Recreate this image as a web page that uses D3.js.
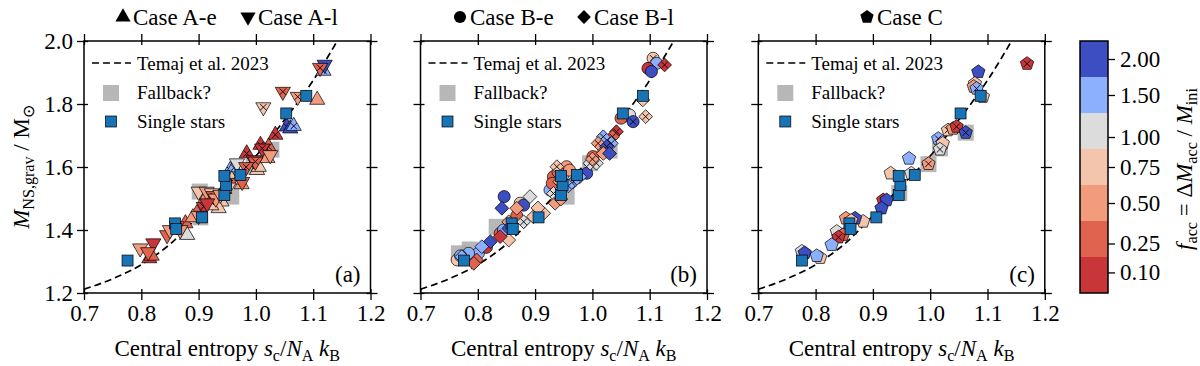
<!DOCTYPE html>
<html>
<head>
<meta charset="utf-8">
<script src="https://cdn.jsdelivr.net/npm/d3@7"></script>
<style>
	body { margin: 0; background: #fff; }
	svg text { font-family: "Liberation Serif", "Times New Roman", serif; fill: #000; }
	.axis path, .axis line { stroke: #000; stroke-width: 1.3; }
	.axis text { font-family: "Liberation Serif", serif; font-size: 23px; }
</style>
</head>
<body>
<svg id="chart" width="1200" height="366"></svg>
<script>
"use strict";

// Data

// Temaj et al. 2023 relation, sampled
var curveS = [0.70, 0.75, 0.80, 0.85, 0.90, 0.95, 1.00, 1.05, 1.10, 1.142];
var curveM = [1.212, 1.245, 1.29, 1.355, 1.445, 1.54, 1.635, 1.75, 1.875, 2.0];

// single stars: [s_c, M]
var singleStars = [
	[0.776, 1.303], [0.859, 1.421], [0.861, 1.403], [0.906, 1.440], [0.945, 1.511],
	[0.948, 1.543], [0.945, 1.572], [0.973, 1.575], [1.053, 1.770], [1.088, 1.826]
];

// binaries: [s_c, M, f_acc, crossed]
var caseAe = [
	[1.118, 1.905, 1.5, 1], [1.107, 1.813, 0.5, 0], [1.054, 1.728, 2.0, 1], [1.060, 1.722, 2.0, 0],
	[1.066, 1.730, 1.5, 1], [1.034, 1.702, 0.1, 1], [1.022, 1.664, 0.25, 1], [1.008, 1.670, 0.1, 1],
	[0.984, 1.643, 0.1, 1], [1.002, 1.590, 0.75, 0], [1.005, 1.600, 0.75, 0], [0.955, 1.590, 1.5, 1],
	[0.962, 1.598, 1.5, 1], [0.975, 1.545, 0.5, 0], [0.932, 1.495, 0.5, 0], [0.940, 1.490, 0.75, 0],
	[0.935, 1.469, 0.75, 0], [0.922, 1.478, 0.75, 0], [0.897, 1.453, 0.25, 0], [0.877, 1.421, 0.25, 0],
	[0.880, 1.384, 1.0, 0], [0.814, 1.310, 0.1, 0], [0.818, 1.318, 0.25, 0], [0.912, 1.500, 0.5, 0],
	[0.945, 1.530, 0.25, 1], [1.020, 1.628, 0.5, 0], [0.958, 1.560, 0.75, 0], [0.890, 1.440, 0.5, 0]
];
var caseAl = [
	[1.120, 1.925, 2.0, 0], [1.112, 1.915, 0.25, 1], [1.047, 1.839, 0.25, 1], [1.073, 1.823, 0.5, 1],
	[1.013, 1.790, 0.75, 1], [1.011, 1.659, 0.1, 1], [1.025, 1.638, 0.5, 0], [0.996, 1.622, 0.1, 0],
	[0.999, 1.617, 0.25, 1], [0.967, 1.612, 1.0, 0], [0.976, 1.553, 0.25, 0], [0.955, 1.550, 0.25, 1],
	[0.900, 1.522, 0.75, 0], [0.914, 1.522, 0.5, 0], [0.923, 1.517, 0.75, 0], [0.926, 1.508, 0.25, 1],
	[0.930, 1.500, 0.5, 0], [0.909, 1.474, 0.1, 1], [0.915, 1.485, 0.1, 0], [0.900, 1.445, 0.5, 0],
	[0.845, 1.384, 0.25, 0], [0.868, 1.400, 0.5, 0], [0.850, 1.400, 0.5, 0], [0.821, 1.358, 0.1, 0],
	[0.798, 1.342, 0.5, 0], [0.812, 1.330, 0.25, 0], [0.938, 1.512, 0.5, 0], [0.952, 1.535, 0.75, 1],
	[0.983, 1.600, 0.25, 1], [0.862, 1.412, 0.25, 0]
];
var caseBe = [
	[1.106, 1.945, 0.75, 1], [1.112, 1.929, 1.5, 0], [1.097, 1.913, 0.1, 0], [1.103, 1.903, 2.0, 0],
	[1.054, 1.760, 0.5, 0], [1.065, 1.765, 1.0, 0], [1.071, 1.744, 2.0, 1], [1.001, 1.633, 0.25, 0],
	[0.990, 1.580, 2.0, 0], [0.955, 1.601, 0.5, 0], [0.932, 1.569, 0.25, 0], [0.949, 1.575, 1.5, 0],
	[0.926, 1.527, 1.5, 0], [0.874, 1.485, 0.75, 0], [0.880, 1.479, 2.0, 0], [0.846, 1.506, 2.0, 0],
	[0.839, 1.389, 0.25, 0], [0.845, 1.400, 1.5, 0], [0.801, 1.326, 1.5, 0], [0.784, 1.326, 1.5, 0],
	[0.764, 1.305, 0.75, 0], [0.940, 1.585, 0.25, 0], [0.960, 1.590, 0.5, 0], [0.930, 1.548, 0.25, 0],
	[1.050, 1.755, 0.25, 0], [1.020, 1.650, 0.5, 0], [0.815, 1.345, 0.1, 0], [0.868, 1.445, 0.25, 0],
	[0.770, 1.318, 1.5, 0]
];
var caseBl = [
	[1.126, 1.924, 0.1, 1], [1.088, 1.813, 0.75, 0], [1.093, 1.760, 0.75, 1], [1.042, 1.712, 0.1, 1],
	[1.035, 1.696, 0.25, 1], [1.019, 1.696, 1.5, 1], [1.010, 1.675, 0.5, 1], [1.033, 1.675, 1.5, 1],
	[1.025, 1.665, 2.0, 1], [1.019, 1.643, 0.5, 0], [1.030, 1.643, 2.0, 0], [0.996, 1.612, 1.0, 1],
	[1.007, 1.612, 1.0, 1], [0.978, 1.569, 1.5, 1], [0.967, 1.553, 1.5, 1], [0.938, 1.601, 0.75, 1],
	[0.943, 1.553, 0.5, 1], [0.932, 1.516, 1.0, 1], [0.935, 1.485, 0.5, 0], [0.891, 1.506, 1.0, 0],
	[0.915, 1.453, 0.75, 0], [0.897, 1.442, 0.75, 0], [0.880, 1.426, 1.0, 1], [0.868, 1.469, 0.5, 0],
	[0.842, 1.469, 2.0, 0], [0.854, 1.426, 0.5, 0], [0.854, 1.405, 2.0, 0], [0.854, 1.368, 0.75, 0],
	[0.839, 1.379, 0.1, 0], [0.822, 1.363, 2.0, 0], [0.807, 1.347, 1.5, 0], [0.798, 1.305, 0.25, 0],
	[0.793, 1.294, 0.25, 0], [0.772, 1.315, 1.5, 0], [0.905, 1.470, 0.75, 0], [0.945, 1.498, 0.5, 0],
	[1.000, 1.625, 0.5, 1], [0.958, 1.540, 1.5, 1]
];
var caseC = [
	[1.169, 1.928, 0.1, 1], [1.084, 1.902, 2.0, 0], [1.078, 1.865, 0.75, 0], [1.076, 1.855, 0.5, 0],
	[1.081, 1.849, 1.5, 1], [1.092, 1.823, 0.75, 0], [1.031, 1.717, 0.75, 1], [1.040, 1.722, 0.5, 0],
	[1.046, 1.728, 0.1, 1], [1.062, 1.709, 2.0, 1], [1.014, 1.690, 1.5, 1], [1.022, 1.675, 0.75, 0],
	[1.017, 1.656, 1.0, 1], [0.997, 1.610, 0.5, 1], [0.963, 1.627, 1.5, 0], [0.967, 1.580, 1.0, 0],
	[0.931, 1.580, 0.75, 0], [0.918, 1.495, 0.1, 0], [0.924, 1.495, 2.0, 0], [0.915, 1.469, 2.0, 0],
	[0.883, 1.427, 0.75, 0], [0.853, 1.437, 0.5, 0], [0.869, 1.437, 2.0, 0], [0.862, 1.430, 0.75, 0],
	[0.837, 1.395, 1.0, 0], [0.848, 1.385, 0.25, 0], [0.840, 1.377, 0.1, 1], [0.828, 1.353, 1.5, 0],
	[0.808, 1.312, 0.75, 0], [0.802, 1.318, 1.5, 0], [0.776, 1.332, 1.0, 0], [0.781, 1.327, 2.0, 0]
];

// "Fallback?" highlights per panel: [s_c, M]
var fallbackA = [[0.903, 1.440], [0.902, 1.522], [0.957, 1.506], [0.996, 1.601], [1.027, 1.655]];
var fallbackB = [[0.767, 1.326], [0.786, 1.338], [0.833, 1.410], [0.955, 1.506], [0.996, 1.612], [1.030, 1.652]];
var fallbackC = [[0.946, 1.517], [0.997, 1.609], [1.017, 1.659], [1.062, 1.709]];

// colour bar
var accTicks = [0.10, 0.25, 0.50, 0.75, 1.00, 1.50, 2.00];
var accBounds = [0, 0.175, 0.375, 0.625, 0.875, 1.25, 1.75, 2.25];
var accColors = ["#c8363a", "#df634e", "#f29b7d", "#f4c5ad", "#dcdcdc", "#8cb0fe", "#3c4ec2"];

var xTicks = [0.7, 0.8, 0.9, 1.0, 1.1, 1.2];
var yTicks = [1.2, 1.4, 1.6, 1.8, 2.0];

// Layout

var svg = d3.select("#chart");
var plotTop = 41, plotBottom = 293, pw = 286.5;
var panelX = [84, 420.5, 758.3];
var serif = "Liberation Serif, Times New Roman, serif";

var colorAcc = d3.scaleThreshold().domain(accBounds.slice(1, -1)).range(accColors);

// marker shapes
function pentagon(r) {
	var pts = d3.range(5).map(function(k) {
		var a = -Math.PI / 2 + k * 2 * Math.PI / 5;
		return [r * Math.cos(a), r * Math.sin(a)];
	});
	return "M" + pts.join("L") + "Z";
}
var shapes = {
	up: { d: d3.symbol(d3.symbolTriangle, 100)(), rot: 0 },
	down: { d: d3.symbol(d3.symbolTriangle, 100)(), rot: 180 },
	circle: { d: d3.symbol(d3.symbolCircle, 115)(), rot: 0 },
	diamond: { d: d3.symbol(d3.symbolSquare, 95)(), rot: 45 },
	pent: { d: pentagon(7), rot: 0 }
};

function drawMarkers(g, data, shape, x, y) {
	var m = g.append("g").selectAll("g")
		.data(data)
		.enter()
		.append("g")
		.attr("transform", function(d) {
			return "translate(" + x(d[0]) + "," + y(d[1]) + ")";
		});
	m.append("path")
		.attr("d", shapes[shape].d)
		.attr("transform", "rotate(" + shapes[shape].rot + ")")
		.attr("fill", function(d) { return colorAcc(d[2]); })
		.attr("stroke", "#000")
		.attr("stroke-width", 0.7);
	// crossed markers
	m.filter(function(d) { return d[3]; })
		.append("path")
		.attr("d", "M-3.2,-3.2L3.2,3.2M-3.2,3.2L3.2,-3.2")
		.attr("stroke", "#000")
		.attr("stroke-width", 0.9);
}

function addMath(text, parts, size) {
	// parts: [string, italic, sub, back-to-baseline]
	parts.forEach(function(p) {
		var t = text.append("tspan").text(p[0]);
		if (p[1]) t.attr("font-style", "italic");
		if (p[2]) t.attr("font-size", size * 0.7).attr("dy", size * 0.22);
		else if (p[3]) t.attr("dy", -size * 0.22);
	});
}

var panels = [
	{ series: [[caseAe, "up"], [caseAl, "down"]], fallback: fallbackA, label: "(a)",
		legend: [["up", "Case A-e"], ["down", "Case A-l"]], legendX: [123, 248] },
	{ series: [[caseBe, "circle"], [caseBl, "diamond"]], fallback: fallbackB, label: "(b)",
		legend: [["circle", "Case B-e"], ["diamond", "Case B-l"]], legendX: [460, 584] },
	{ series: [[caseC, "pent"]], fallback: fallbackC, label: "(c)",
		legend: [["pent", "Case C"]], legendX: [867] }
];

panels.forEach(function(p, i) {
	var x0 = panelX[i];
	var x = d3.scaleLinear().domain([0.7, 1.2]).range([x0, x0 + pw]);
	var y = d3.scaleLinear().domain([1.2, 2.0]).range([plotBottom, plotTop]);
	var g = svg.append("g");

	var clip = "clip" + i;
	svg.append("clipPath").attr("id", clip)
		.append("rect").attr("x", x0).attr("y", plotTop).attr("width", pw).attr("height", plotBottom - plotTop);
	var plot = g.append("g").attr("clip-path", "url(#" + clip + ")");

	// fallback highlights
	plot.append("g").selectAll("rect")
		.data(p.fallback)
		.enter()
		.append("rect")
		.attr("x", function(d) { return x(d[0]) - 8; })
		.attr("y", function(d) { return y(d[1]) - 8; })
		.attr("width", 16)
		.attr("height", 16)
		.attr("fill", "#aaaaaa")
		.attr("opacity", 0.85);

	// Temaj et al. 2023 curve
	var line = d3.line()
		.x(function(d) { return x(d); })
		.y(function(d, k) { return y(curveM[k]); })
		.curve(d3.curveMonotoneX);
	plot.append("path")
		.attr("d", line(curveS))
		.attr("fill", "none")
		.attr("stroke", "#000")
		.attr("stroke-width", 1.7)
		.attr("stroke-dasharray", "7,4");

	p.series.forEach(function(s) { drawMarkers(plot, s[0], s[1], x, y); });

	// single stars
	plot.append("g").selectAll("rect")
		.data(singleStars)
		.enter()
		.append("rect")
		.attr("x", function(d) { return x(d[0]) - 5.5; })
		.attr("y", function(d) { return y(d[1]) - 5.5; })
		.attr("width", 11)
		.attr("height", 11)
		.attr("fill", "#1874b5")
		.attr("stroke", "#000")
		.attr("stroke-width", 0.7);

	// axes (ticks in and out)
	var fmt = d3.format(".1f");
	g.append("g").attr("class", "axis").attr("transform", "translate(0," + plotBottom + ")")
		.call(d3.axisBottom(x).tickValues(xTicks).tickFormat(fmt).tickSize(7).tickPadding(5));
	g.append("g").attr("class", "axis").attr("transform", "translate(0," + plotBottom + ")")
		.call(d3.axisTop(x).tickValues(xTicks).tickFormat("").tickSize(4));
	g.append("g").attr("class", "axis").attr("transform", "translate(0," + plotTop + ")")
		.call(d3.axisTop(x).tickValues(xTicks).tickFormat("").tickSize(7));
	g.append("g").attr("class", "axis").attr("transform", "translate(0," + plotTop + ")")
		.call(d3.axisBottom(x).tickValues(xTicks).tickFormat("").tickSize(4));
	g.append("g").attr("class", "axis").attr("transform", "translate(" + x0 + ",0)")
		.call(d3.axisLeft(y).tickValues(yTicks).tickFormat(i === 0 ? fmt : "").tickSize(7).tickPadding(4));
	g.append("g").attr("class", "axis").attr("transform", "translate(" + x0 + ",0)")
		.call(d3.axisRight(y).tickValues(yTicks).tickFormat("").tickSize(4));
	g.append("g").attr("class", "axis").attr("transform", "translate(" + (x0 + pw) + ",0)")
		.call(d3.axisRight(y).tickValues(yTicks).tickFormat("").tickSize(7));
	g.append("g").attr("class", "axis").attr("transform", "translate(" + (x0 + pw) + ",0)")
		.call(d3.axisLeft(y).tickValues(yTicks).tickFormat("").tickSize(4));
	g.selectAll(".axis .domain").remove();

	// frame
	g.append("rect")
		.attr("x", x0).attr("y", plotTop).attr("width", pw).attr("height", plotBottom - plotTop)
		.attr("fill", "none").attr("stroke", "#000").attr("stroke-width", 1.5);

	// x label
	var xl = g.append("text")
		.attr("x", x0 + pw / 2).attr("y", 356)
		.attr("text-anchor", "middle")
		.attr("font-family", serif)
		.attr("font-size", 23);
	addMath(xl, [["Central entropy "], ["s", 1], ["c", 0, 1], ["/", 0, 0, 1], ["N", 1], ["A", 0, 1],
		[" ", 0, 0, 1], ["k", 1], ["B", 0, 1]], 23);

	// panel label
	g.append("text")
		.attr("x", x0 + pw - 10).attr("y", 282)
		.attr("text-anchor", "end")
		.attr("font-family", serif)
		.attr("font-size", 23)
		.text(p.label);

	// inner legend
	var lx = x0 + 8;
	g.append("line")
		.attr("x1", lx).attr("x2", lx + 39).attr("y1", 63).attr("y2", 63)
		.attr("stroke", "#000").attr("stroke-width", 1.7).attr("stroke-dasharray", "7,4");
	g.append("rect")
		.attr("x", lx + 11).attr("y", 85).attr("width", 16).attr("height", 16)
		.attr("fill", "#aaaaaa").attr("opacity", 0.85);
	g.append("rect")
		.attr("x", lx + 13.5).attr("y", 116).attr("width", 11).attr("height", 11)
		.attr("fill", "#1874b5").attr("stroke", "#000").attr("stroke-width", 0.7);
	[["Temaj et al. 2023", 69.5], ["Fallback?", 99], ["Single stars", 127.5]].forEach(function(t) {
		g.append("text")
			.attr("x", lx + 45).attr("y", t[1])
			.attr("font-family", serif)
			.attr("font-size", 19)
			.text(t[0]);
	});

	// case legend above panel
	p.legend.forEach(function(l, k) {
		var cx = p.legendX[k];
		g.append("path")
			.attr("d", shapes[l[0]].d)
			.attr("transform", "translate(" + cx + ",17) rotate(" + shapes[l[0]].rot + ")")
			.attr("fill", "#000");
		g.append("text")
			.attr("x", cx + 10).attr("y", 25)
			.attr("font-family", serif)
			.attr("font-size", 23)
			.text(l[1]);
	});
});

// y label
var yl = svg.append("text")
	.attr("transform", "translate(29,167) rotate(-90)")
	.attr("text-anchor", "middle")
	.attr("font-family", serif)
	.attr("font-size", 23);
addMath(yl, [["M", 1], ["NS,grav", 0, 1], [" / M", 0, 0, 1], ["\u2299", 0, 1]], 23);

// colour bar
var cbX = 1080, cbW = 28;
var cbY = d3.scaleLinear()
	.domain(accBounds)
	.range(accBounds.map(function(d, k) {
		return plotBottom - k * (plotBottom - plotTop) / (accBounds.length - 1);
	}));
var cb = svg.append("g");
cb.selectAll("rect")
	.data(accColors)
	.enter()
	.append("rect")
	.attr("x", cbX)
	.attr("y", function(d, k) { return cbY(accBounds[k + 1]); })
	.attr("width", cbW)
	.attr("height", function(d, k) { return cbY(accBounds[k]) - cbY(accBounds[k + 1]); })
	.attr("fill", function(d) { return d; });
cb.append("rect")
	.attr("x", cbX).attr("y", plotTop).attr("width", cbW).attr("height", plotBottom - plotTop)
	.attr("fill", "none").attr("stroke", "#000").attr("stroke-width", 1.5);
cb.append("g").attr("class", "axis").attr("transform", "translate(" + (cbX + cbW) + ",0)")
	.call(d3.axisRight(cbY).tickValues(accTicks).tickFormat(d3.format(".2f")).tickSize(7).tickPadding(5))
	.select(".domain").remove();

var cl = svg.append("text")
	.attr("transform", "translate(1192,169) rotate(-90)")
	.attr("text-anchor", "middle")
	.attr("font-family", serif)
	.attr("font-size", 23);
addMath(cl, [["f", 1], ["acc", 0, 1], [" = \u0394", 0, 0, 1], ["M", 1], ["acc", 0, 1], [" / ", 0, 0, 1],
	["M", 1], ["ini", 0, 1]], 23);
</script>
</body>
</html>
